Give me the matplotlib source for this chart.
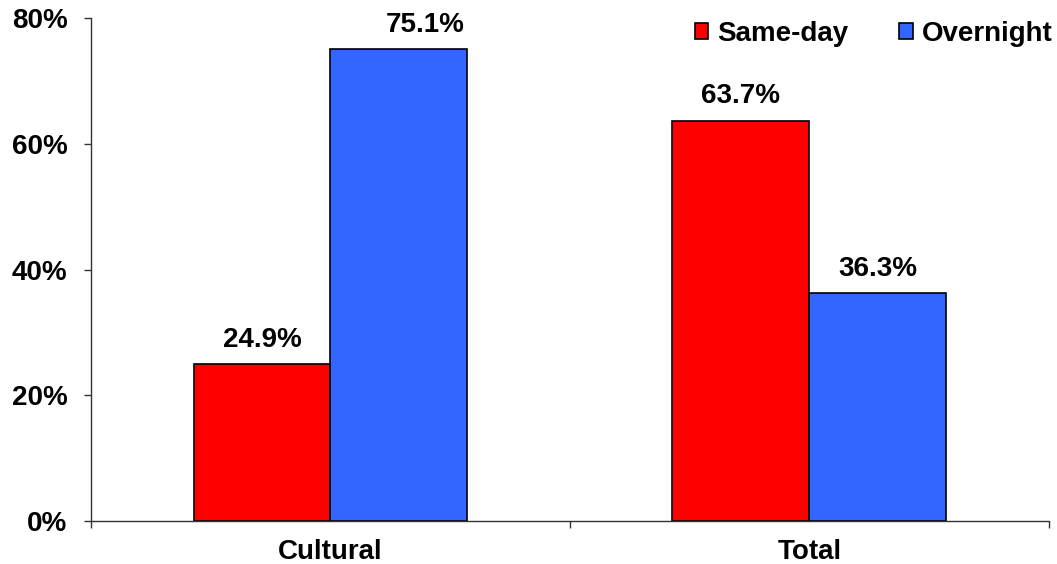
import numpy as np
import matplotlib.pyplot as plt
from matplotlib.ticker import FixedLocator, PercentFormatter

categories = ["Cultural", "Total"]
series_names = ["Same-day", "Overnight"]
same_day = [24.9, 63.7]
overnight = [75.1, 36.3]
y_ticks = [0, 20, 40, 60, 80]

colors = ["#FF0000", "#3366FF"]

plt.rcParams["font.family"] = ["Liberation Sans", "DejaVu Sans"]
plt.rcParams["font.weight"] = "bold"

fig = plt.figure(figsize=(10.57, 5.64), dpi=100)
ax = fig.add_axes([0.0861, 0.0762, 0.9063, 0.8918])

x = np.arange(len(categories))
w = 0.286
bars_a = ax.bar(x - w / 2, same_day, w, color=colors[0], edgecolor="black",
                linewidth=1.2, label=series_names[0])
bars_b = ax.bar(x + w / 2, overnight, w, color=colors[1], edgecolor="black",
                linewidth=1.2, label=series_names[1])

# value labels above each bar
for bars in (bars_a, bars_b):
    for b in bars:
        v = b.get_height()
        cx = b.get_x() + b.get_width() / 2
        nudge = 0.055 if v > 70 else 0.0  # top label sits a bit to the right
        ax.annotate(f"{v:.1f}%", (cx + nudge, v), xytext=(0, 8),
                    textcoords="offset points", ha="center", va="bottom",
                    fontsize=20, fontweight="bold")

ax.set_xlim(-0.5, len(categories) - 0.5)
ax.set_ylim(0, 80)
ax.set_yticks(y_ticks)
ax.yaxis.set_major_formatter(PercentFormatter(decimals=0))
ax.set_xticks(x)
ax.set_xticklabels(categories)
ax.xaxis.set_minor_locator(FixedLocator(np.arange(len(categories) + 1) - 0.5))

ax.tick_params(axis="y", direction="out", length=5, width=1, pad=12,
               labelsize=20, color="#333333")
ax.tick_params(axis="x", which="major", length=0, pad=13, labelsize=20)
ax.tick_params(axis="x", which="minor", direction="out", length=5, width=1,
               color="#333333")

for side in ("top", "right"):
    ax.spines[side].set_visible(False)
for side in ("left", "bottom"):
    ax.spines[side].set_color("#333333")
    ax.spines[side].set_linewidth(1)

leg = ax.legend(loc="upper right", bbox_to_anchor=(1.006, 0.983),
                bbox_transform=fig.transFigure, frameon=False, ncol=2,
                fontsize=20, handlelength=0.5, handleheight=0.5,
                handletextpad=0.3, columnspacing=1.85, borderaxespad=0.2,
                borderpad=0.2)
for t in leg.get_texts():
    t.set_fontweight("bold")

fig.savefig("out.png", dpi=100)
